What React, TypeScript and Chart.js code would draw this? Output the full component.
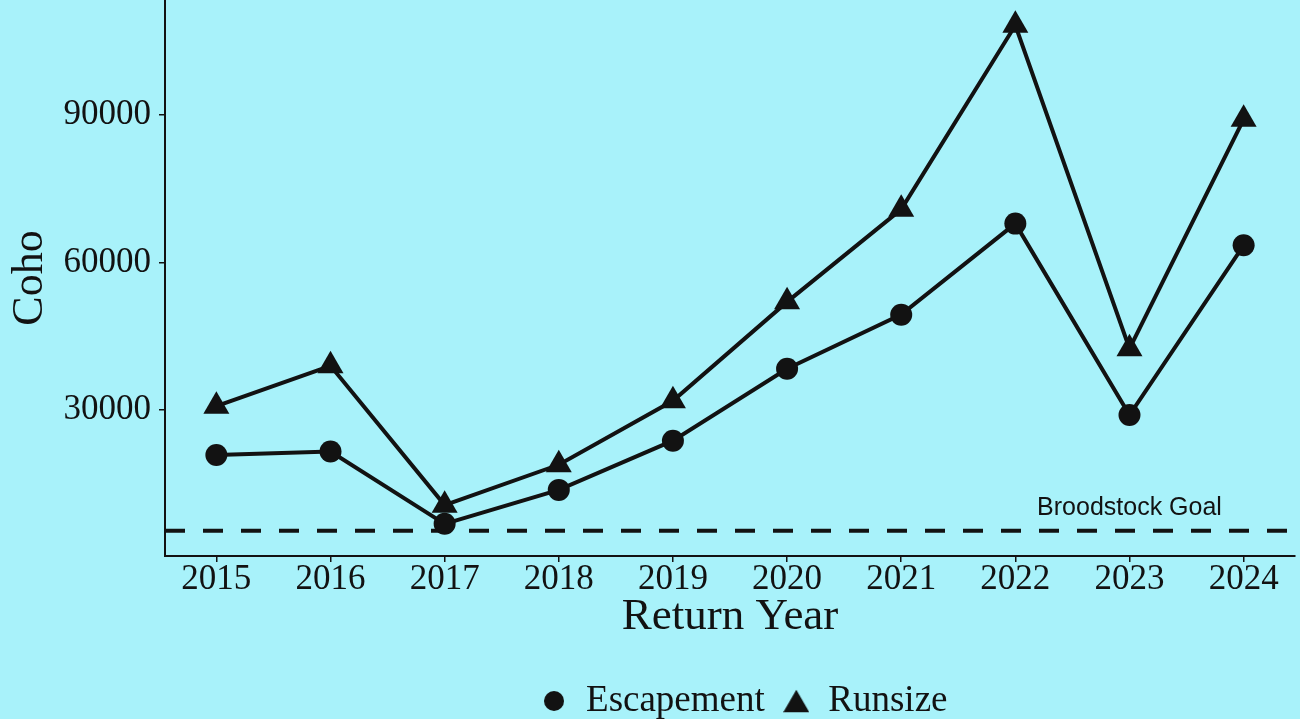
import React, { useEffect, useRef } from "react";
import { Chart, registerables } from "chart.js";

Chart.register(...registerables);

// ---- data ----
const years = [2015, 2016, 2017, 2018, 2019, 2020, 2021, 2022, 2023, 2024];
const escapement = [20900, 21600, 6900, 13800, 23800, 38400, 49400, 67900, 29000, 63500];
const runsize = [30800, 39000, 10700, 18900, 31900, 52000, 70800, 108200, 42500, 89100];
const broodstockGoal = 5500;
const yTickValues = [30000, 60000, 90000];
const seriesNames = ["Escapement", "Runsize"];
const xTitle = "Return Year";
const yTitle = "Coho";
const goalText = "Broodstock Goal";
const goalTextAt = { x: 2023, y: 10000 };

// ---- style ----
const BG = "#a8f2fa";
const INK = "#121212";
const SERIF = '"Liberation Serif", "Times New Roman", serif';
const SANS = '"Liberation Sans", Arial, sans-serif';
const LEGEND_SHIFT = 14;

// ggplot-like 5% expansion of the data range
const allY = [...escapement, ...runsize, broodstockGoal];
const yLo = Math.min(...allY);
const yHi = Math.max(...allY);
const yMin = yLo - 0.05 * (yHi - yLo);
const yMax = yHi + 0.05 * (yHi - yLo);
const xMin = years[0] - 0.05 * (years[years.length - 1] - years[0]);
const xMax = years[years.length - 1] + 0.05 * (years[years.length - 1] - years[0]);

function makeMarker(shape: "circle" | "triangle", size: number, color: string) {
  const c = document.createElement("canvas");
  c.width = size;
  c.height = size;
  const g = c.getContext("2d")!;
  g.fillStyle = color;
  g.beginPath();
  if (shape === "circle") {
    g.arc(size / 2, size / 2, size / 2, 0, Math.PI * 2);
  } else {
    const h = size * 0.866;
    const top = (size - h) / 2;
    g.moveTo(size / 2, top);
    g.lineTo(size, top + h);
    g.lineTo(0, top + h);
    g.closePath();
  }
  g.fill();
  return c;
}

const goalLabelPlugin = {
  id: "goalLabel",
  afterLayout(chart: any) {
    if (chart.legend) {
      chart.legend.left += LEGEND_SHIFT;
      chart.legend.right += LEGEND_SHIFT;
    }
  },
  afterDatasetsDraw(chart: any) {
    const { ctx, scales } = chart;
    ctx.save();
    ctx.font = `25px ${SANS}`;
    ctx.fillStyle = INK;
    ctx.textAlign = "center";
    ctx.textBaseline = "middle";
    ctx.fillText(goalText, scales.x.getPixelForValue(goalTextAt.x), scales.y.getPixelForValue(goalTextAt.y));
    ctx.restore();
  },
};

export default function App() {
  const ref = useRef<HTMLCanvasElement | null>(null);

  useEffect(() => {
    const canvas = ref.current;
    if (!canvas) return;
    const legendMarkers = [makeMarker("circle", 20, INK), makeMarker("triangle", 26, INK)];

    const chart = new Chart(canvas, {
      type: "line",
      data: {
        datasets: [
          {
            label: seriesNames[0],
            data: years.map((yr, i) => ({ x: yr, y: escapement[i] })),
            borderColor: INK,
            backgroundColor: INK,
            borderWidth: 4,
            pointStyle: "circle",
            pointRadius: 11,
            pointHoverRadius: 11,
            pointBorderWidth: 0,
            clip: false,
          },
          {
            label: seriesNames[1],
            data: years.map((yr, i) => ({ x: yr, y: runsize[i] })),
            borderColor: INK,
            backgroundColor: INK,
            borderWidth: 4,
            pointStyle: "triangle",
            pointRadius: 15,
            pointHoverRadius: 15,
            pointBorderWidth: 0,
            clip: false,
          },
          {
            label: goalText,
            data: [
              { x: xMin, y: broodstockGoal },
              { x: xMax, y: broodstockGoal },
            ],
            borderColor: INK,
            backgroundColor: INK,
            borderWidth: 4,
            borderDash: [20, 18],
            pointRadius: 0,
            pointHoverRadius: 0,
          },
        ],
      } as any,
      options: {
        animation: false,
        responsive: false,
        devicePixelRatio: 1,
        events: [],
        layout: { autoPadding: false, padding: { left: 0, right: 5, top: 0, bottom: -10.5 } },
        scales: {
          x: {
            type: "linear",
            min: xMin,
            max: xMax,
            afterBuildTicks: (s: any) => {
              s.ticks = years.map((v) => ({ value: v }));
            },
            afterFit: (s: any) => {
              s.height = 108.5;
              s.paddingLeft = 0;
              s.paddingRight = 0;
            },
            ticks: {
              callback: (v: any) => String(v),
              font: { family: SERIF, size: 35, lineHeight: 1 },
              color: INK,
              padding: 0,
              maxRotation: 0,
              autoSkip: false,
            },
            grid: { drawOnChartArea: false, drawTicks: true, tickLength: 6, color: INK, lineWidth: 1.5 },
            border: { display: true, color: INK, width: 2 },
            title: {
              display: true,
              text: xTitle,
              color: INK,
              font: { family: SERIF, size: 45, lineHeight: 1 },
              padding: { top: 0, bottom: 25 },
            },
          },
          y: {
            type: "linear",
            min: yMin,
            max: yMax,
            afterBuildTicks: (s: any) => {
              s.ticks = yTickValues.map((v) => ({ value: v }));
            },
            afterFit: (s: any) => {
              s.width = 165;
              s.paddingTop = 0;
              s.paddingBottom = 0;
            },
            ticks: {
              callback: (v: any) => String(v),
              font: { family: SERIF, size: 35, lineHeight: 1 },
              color: INK,
              padding: 8,
            },
            grid: { drawOnChartArea: false, drawTicks: true, tickLength: 6, color: INK, lineWidth: 1.5 },
            border: { display: true, color: INK, width: 2 },
            title: {
              display: true,
              text: yTitle,
              color: INK,
              font: { family: SERIF, size: 44, lineHeight: 1 },
              padding: { top: 8, bottom: 0 },
            },
          },
        },
        plugins: {
          legend: {
            display: true,
            position: "bottom",
            fullSize: false,
            labels: {
              usePointStyle: true,
              boxWidth: 27,
              boxHeight: 14,
              padding: 18,
              color: INK,
              font: { family: SERIF, size: 37 },
              generateLabels: (c: any) =>
                c.data.datasets.slice(0, 2).map((ds: any, i: number) => ({
                  text: ds.label,
                  fillStyle: INK,
                  strokeStyle: INK,
                  lineWidth: 0,
                  pointStyle: legendMarkers[i],
                  hidden: false,
                  datasetIndex: i,
                  fontColor: INK,
                })),
            },
          },
          tooltip: { enabled: false },
        },
      } as any,
      plugins: [goalLabelPlugin],
    });
    return () => chart.destroy();
  }, []);

  return (
    <div
      style={{
        position: "fixed",
        left: 0,
        top: 0,
        width: 1300,
        height: 719,
        background: BG,
        overflow: "hidden",
      }}
    >
      <canvas ref={ref} width={1300} height={719} style={{ display: "block", width: 1300, height: 719 }} />
    </div>
  );
}
